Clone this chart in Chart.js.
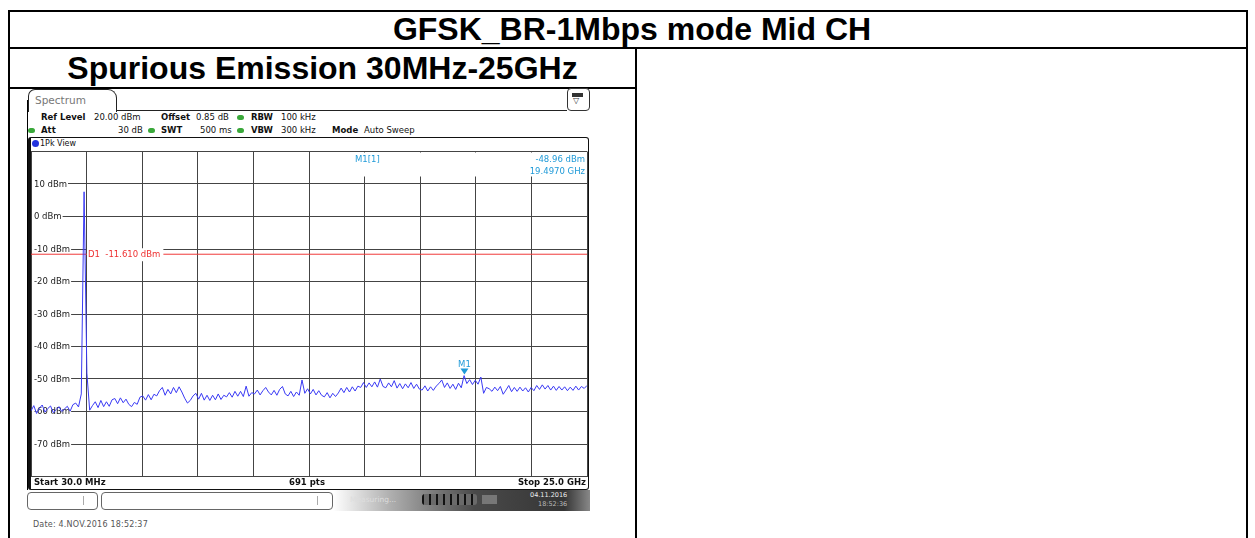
<!DOCTYPE html>
<html>
<head>
<meta charset="utf-8">
<script src="https://cdn.jsdelivr.net/npm/chart.js@4.4.0/dist/chart.umd.min.js"></script>
<style>
body { margin:0; width:1255px; height:538px; background:#fff; position:relative; overflow:hidden; font-family:"DejaVu Sans", sans-serif; }
.ln { position:absolute; background:#000; }
.big { position:absolute; font-family:"Liberation Sans", Arial, sans-serif; font-weight:bold; font-size:32px; text-align:center; }
.t { position:absolute; font-size:8.5px; line-height:10px; color:#111; white-space:nowrap; }
.b { font-weight:bold; }
.dot { position:absolute; width:7px; height:5px; border-radius:3px; background:#3aa83a; }
</style>
</head>
<body>
<!-- table frame -->
<div class="ln" style="left:8px;top:10px;width:1240px;height:2px"></div>
<div class="ln" style="left:8px;top:10px;width:2px;height:528px"></div>
<div class="ln" style="left:1246px;top:10px;width:2px;height:528px"></div>
<div class="ln" style="left:8px;top:47px;width:1240px;height:2px"></div>
<div class="ln" style="left:8px;top:87px;width:629px;height:2px"></div>
<div class="ln" style="left:635px;top:47px;width:2px;height:491px"></div>
<div class="big" style="left:14px;top:11px;width:1236px;height:36px;line-height:36px">GFSK_BR-1Mbps mode Mid CH</div>
<div class="big" style="left:10px;top:50px;width:625px;height:36px;line-height:36px">Spurious Emission 30MHz-25GHz</div>

<!-- analyzer chrome -->
<div class="ln" style="left:27px;top:100px;width:1px;height:390px"></div>
<div style="position:absolute;left:28px;top:89px;width:87px;height:22px;border:1px solid #222;border-bottom:none;border-radius:7px 9px 0 0;background:#fff"></div>
<div class="t" style="left:35px;top:94px;font-size:10.5px;line-height:12px;color:#777">Spectrum</div>
<div class="ln" style="left:116px;top:110px;width:451px;height:1px;background:#222"></div>
<div style="position:absolute;left:567px;top:88px;width:21px;height:21px;border:1px solid #333;border-radius:4px;background:#fff"></div>
<div style="position:absolute;left:572px;top:93px;width:11px;height:4px;background:#333"></div>
<div class="t" style="left:573px;top:96px;font-size:8px;color:#333">▽</div>

<div class="t b" style="left:41px;top:112px">Ref Level</div>
<div class="t" style="left:94px;top:112px">20.00 dBm</div>
<div class="t b" style="left:161px;top:112px">Offset</div>
<div class="t" style="left:196px;top:112px">0.85 dB</div>
<div class="dot" style="left:237px;top:115px"></div>
<div class="t b" style="left:251px;top:112px">RBW</div>
<div class="t" style="left:281px;top:112px">100 kHz</div>

<div class="dot" style="left:28px;top:128px"></div>
<div class="t b" style="left:41px;top:125px">Att</div>
<div class="t" style="left:118px;top:125px">30 dB</div>
<div class="dot" style="left:148px;top:128px"></div>
<div class="t b" style="left:161px;top:125px">SWT</div>
<div class="t" style="left:200px;top:125px">500 ms</div>
<div class="dot" style="left:237px;top:128px"></div>
<div class="t b" style="left:251px;top:125px">VBW</div>
<div class="t" style="left:281px;top:125px">300 kHz</div>
<div class="t b" style="left:332px;top:125px">Mode</div>
<div class="t" style="left:364px;top:125px">Auto Sweep</div>

<div style="position:absolute;left:28px;top:137px;width:557px;height:351px;border:1px solid #111;border-left:3px solid #111;border-radius:3px"></div>
<div style="position:absolute;left:32px;top:140px;width:7px;height:7px;border-radius:4px;background:#2233dd"></div>
<div class="t" style="left:40px;top:139px;font-size:8px">1Pk View</div>
<div style="position:absolute;left:28px;top:137px;width:562px;height:354px"><canvas id="spec"></canvas></div>
<div class="t b" style="left:34px;top:477px">Start 30.0 MHz</div>
<div class="t b" style="left:257px;top:477px;width:100px;text-align:center">691 pts</div>
<div class="t b" style="left:486px;top:477px;width:100px;text-align:right">Stop 25.0 GHz</div>

<!-- status bar -->
<div style="position:absolute;left:27px;top:492px;width:69px;height:16px;border:1px solid #666;border-radius:4px"></div>
<div class="ln" style="left:83px;top:496px;width:1px;height:9px;background:#aaa"></div>
<div style="position:absolute;left:101px;top:492px;width:230px;height:16px;border:1px solid #666;border-radius:4px"></div>
<div class="ln" style="left:317px;top:496px;width:1px;height:9px;background:#aaa"></div>
<div style="position:absolute;left:333px;top:490px;width:257px;height:21px;background:linear-gradient(to right,#fff 0%,#b0b0b0 22%,#4a4a4a 55%,#353535 90%,#888 100%)"></div>
<div class="t" style="left:350px;top:495px;font-size:7.5px;color:#ddd">Measuring...</div>
<div style="position:absolute;left:422px;top:494px;width:55px;height:11px;border-radius:3px;background:repeating-linear-gradient(to right,#111 0px,#111 2px,#6a6a6a 2px,#6a6a6a 7px)"></div>
<div style="position:absolute;left:482px;top:495px;width:15px;height:9px;background:#777"></div>
<div class="t" style="left:530px;top:491px;font-size:6.5px;line-height:8px;color:#eee">04.11.2016</div>
<div class="t" style="left:538px;top:500px;font-size:6.5px;line-height:8px;color:#bbb">18:52:36</div>
<div class="t" style="left:33px;top:520px;font-size:8px;color:#555;letter-spacing:0.2px">Date: 4.NOV.2016  18:52:37</div>

<script>
// sweep settings (GHz / dBm)
const startGHz = 0.03;
const stopGHz = 25.0;
const refLevel = 20;
const bottomLevel = -80;
const yLabelValues = [10, 0, -10, -20, -30, -40, -50, -60, -70];
const xDivisions = 10;

// display line D1
const d1Level = -11.61;
const d1Text = "D1  -11.610 dBm";

// marker M1
const m1Freq = 19.497;
const m1Level = -48.96;
const m1Texts = ["M1[1]", "-48.96 dBm", "19.4970 GHz"];

// trace levels (dBm), evenly spaced across the sweep
const levels = [
  -59.8, -58.2, -60.6, -59.0, -58.0, -60.2, -59.1, -58.3, -60.4, -59.4,
  -58.5, -60.0, -59.2, -58.4, -59.9, -57.9, -57.4, -58.6, -54.6, 7.6,
  -48.2, -59.6, -58.2, -57.0, -58.8, -56.6, -58.5, -57.0, -58.4, -56.4,
  -56.0, -57.6, -55.8, -57.3, -56.2, -57.8, -58.5, -57.2, -57.8, -55.6,
  -55.2, -56.5, -54.8, -56.4, -54.7, -55.2, -53.6, -52.6, -55.0, -53.2,
  -54.6, -52.6, -54.2, -52.4, -54.0, -55.9, -57.4, -56.6, -55.2, -54.4,
  -56.2, -54.4, -56.5, -55.0, -56.6, -55.0, -56.4, -54.6, -56.3, -55.0,
  -55.5, -54.2, -55.6, -53.8, -55.3, -53.8, -55.4, -52.2, -55.3, -54.2,
  -54.6, -53.4, -54.9, -53.6, -52.6, -54.0, -54.9, -53.5, -55.0, -53.2,
  -52.3, -54.6, -55.2, -53.8, -55.4, -54.0, -55.0, -50.3, -54.4, -53.0,
  -54.6, -53.2, -54.9, -53.6, -55.0, -55.5, -54.2, -55.8, -54.4, -55.4,
  -54.3, -52.8, -54.2, -52.6, -54.0, -52.4, -53.7, -52.2, -52.6, -51.1,
  -52.6, -51.2, -52.4, -50.9, -52.5, -50.0, -52.3, -52.7, -51.2, -52.4,
  -50.5, -52.8, -51.4, -53.0, -51.5, -52.7, -51.1, -52.9, -51.6, -53.1,
  -53.4, -52.1, -53.7, -52.4, -53.5, -52.2, -51.4, -50.3, -52.6, -51.2,
  -52.9, -51.6, -53.2, -51.3, -52.7, -48.96, -51.4, -50.2, -51.7, -50.4,
  -51.6, -49.4, -54.4, -52.6, -53.0, -53.8, -52.5, -53.6, -52.3, -54.7,
  -53.4, -52.0, -53.9, -52.6, -53.8, -52.5, -53.7, -52.7, -54.0, -52.6,
  -53.6, -52.0, -53.2, -51.8, -53.1, -52.0, -53.4, -52.2, -53.5, -52.3,
  -53.4, -52.4, -53.6, -52.5, -53.5, -52.2, -53.4, -52.3, -52.9, -52.0
];

const step = (stopGHz - startGHz) / (levels.length - 1);
const trace = levels.map((v, i) => ({ x: startGHz + i * step, y: v }));

const markerBlue = "#1f9ad8";
const labelFont = "8.5px 'DejaVu Sans'";

const overlay = {
  id: "overlay",
  beforeDatasetsDraw(chart) {
    const { ctx, chartArea: a, scales } = chart;
    ctx.save();
    ctx.font = labelFont;
    ctx.textBaseline = "middle";
    // level labels sitting on the grid lines
    yLabelValues.forEach(v => {
      const y = scales.y.getPixelForValue(v);
      const txt = v + " dBm";
      const w = ctx.measureText(txt).width;
      ctx.fillStyle = "#fff";
      ctx.fillRect(a.left + 1, y - 5, w + 3, 10);
      ctx.fillStyle = "#222";
      ctx.fillText(txt, a.left + 3, y + 0.5);
    });
    // marker readout box
    ctx.fillStyle = "#fff";
    ctx.fillRect(a.left + 304, a.top + 1, a.right - a.left - 305, 24);
    ctx.fillStyle = markerBlue;
    ctx.fillText(m1Texts[0], a.left + 324, a.top + 8);
    ctx.textAlign = "right";
    ctx.fillText(m1Texts[1], a.right - 2, a.top + 8);
    ctx.fillText(m1Texts[2], a.right - 2, a.top + 20);
    ctx.restore();
  },
  afterDatasetsDraw(chart) {
    const { ctx, chartArea: a, scales } = chart;
    ctx.save();
    ctx.font = labelFont;
    ctx.textBaseline = "middle";
    // D1 label
    const yd = scales.y.getPixelForValue(d1Level);
    const w = ctx.measureText(d1Text).width;
    ctx.fillStyle = "#fff";
    ctx.fillRect(a.left + 56, yd - 6, w + 4, 13);
    ctx.fillStyle = "#ee3030";
    ctx.fillText(d1Text, a.left + 57, yd + 1);
    // M1 marker
    const mx = scales.x.getPixelForValue(m1Freq);
    const my = scales.y.getPixelForValue(m1Level);
    ctx.fillStyle = markerBlue;
    ctx.beginPath();
    ctx.moveTo(mx - 4, my - 7);
    ctx.lineTo(mx + 4, my - 7);
    ctx.lineTo(mx, my - 1);
    ctx.closePath();
    ctx.fill();
    ctx.textAlign = "center";
    ctx.fillText("M1", mx, my - 11);
    ctx.restore();
  }
};

new Chart(document.getElementById("spec"), {
  type: "line",
  data: {
    datasets: [
      {
        data: trace,
        borderColor: "#3a3af4",
        borderWidth: 1,
        pointRadius: 0,
        tension: 0
      },
      {
        data: [{ x: startGHz, y: d1Level }, { x: stopGHz, y: d1Level }],
        borderColor: "#f03a3a",
        borderWidth: 1,
        pointRadius: 0
      }
    ]
  },
  options: {
    animation: false,
    responsive: true,
    maintainAspectRatio: false,
    layout: { padding: { left: 3, right: 3, top: 14.5, bottom: 14.5 } },
    plugins: { legend: { display: false }, tooltip: { enabled: false } },
    scales: {
      x: {
        type: "linear",
        min: startGHz,
        max: stopGHz,
        afterBuildTicks: (scale) => {
          const span = (stopGHz - startGHz) / xDivisions;
          scale.ticks = [];
          for (let k = 0; k <= xDivisions; k++) scale.ticks.push({ value: startGHz + k * span });
        },
        ticks: { display: false },
        grid: { color: "#444", drawTicks: false },
        border: { display: false }
      },
      y: {
        min: bottomLevel,
        max: refLevel,
        ticks: { display: false, stepSize: 10 },
        grid: { color: "#444", drawTicks: false },
        border: { display: false }
      }
    }
  },
  plugins: [overlay]
});
</script>
</body>
</html>
